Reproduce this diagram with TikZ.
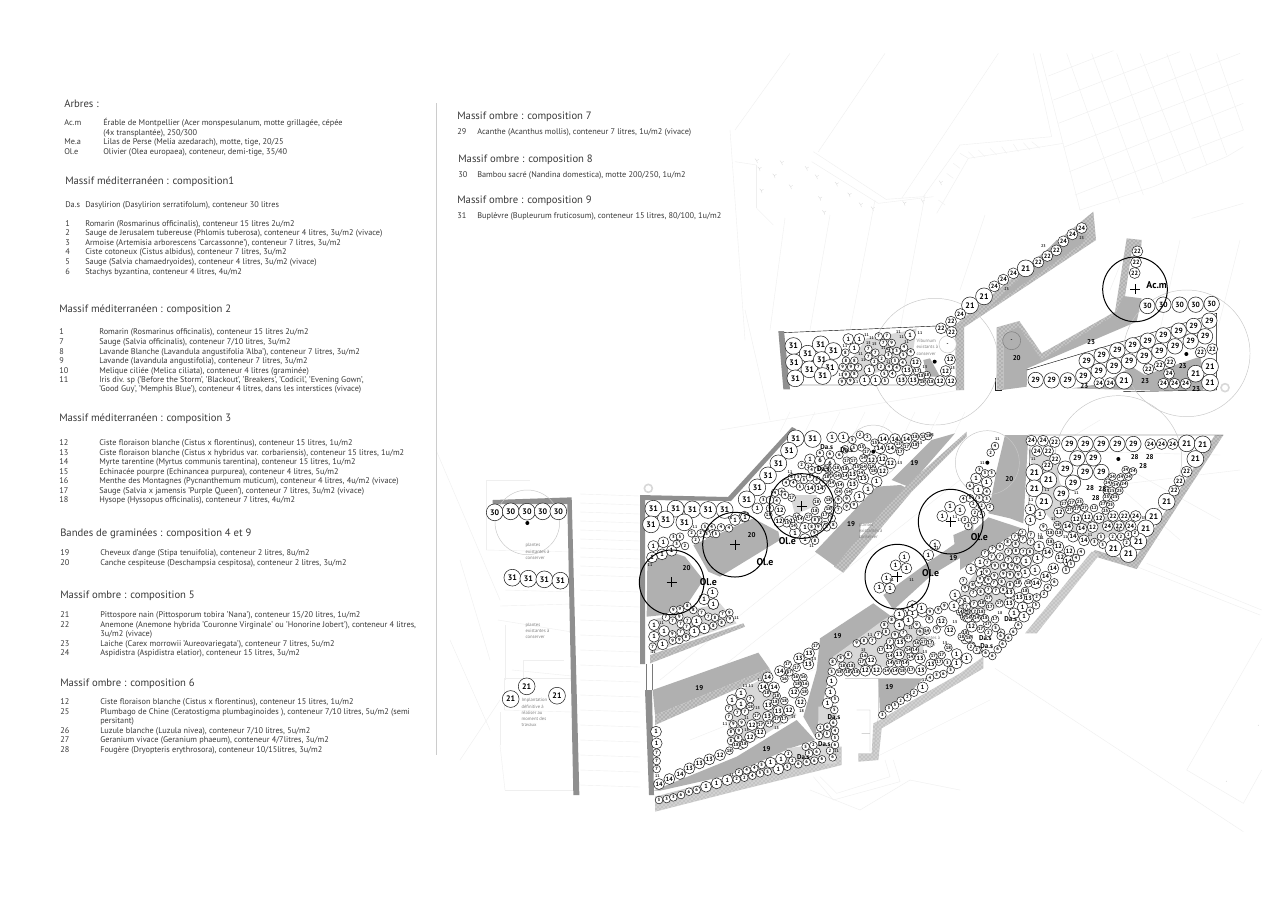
\documentclass[tikz,border=0pt]{standalone}
\usepackage{fontspec}
\setmainfont{PT Sans}
\usetikzlibrary{patterns}
\definecolor{ink}{HTML}{222222}
\definecolor{txt}{HTML}{3a3a3a}
\definecolor{band}{HTML}{b0b0b0}
\definecolor{stip}{HTML}{d8d8d8}
\definecolor{wallc}{HTML}{8f8f8f}
\definecolor{faint}{HTML}{efefef}
\definecolor{thin}{HTML}{c8c8c8}
\tikzset{
 zm/.style 2 args={shift={(#1,#2)},x=0.25pt,y=-0.25pt},
 bp/.style={circle,draw=ink,fill=white,line width=0.4pt,inner sep=0pt,text=black},
 pA/.style={bp,minimum size=12.6pt,font=\fontsize{6}{6}\selectfont\bfseries},
 pB/.style={bp,minimum size=11.6pt,font=\fontsize{5.6}{6}\selectfont\bfseries},
 pC/.style={bp,minimum size=8.2pt,font=\fontsize{4.6}{5}\selectfont\bfseries},
 pD/.style={bp,minimum size=5.8pt,font=\fontsize{3.4}{4}\selectfont\bfseries},
 ti/.style={inner sep=0pt,font=\fontsize{3}{3}\selectfont\bfseries,text=ink},
 la/.style={inner sep=0pt,font=\fontsize{5.2}{6}\selectfont\bfseries,text=black},
 tree/.style={circle,draw=black,line width=0.75pt,minimum size=48.5pt,inner sep=0pt},
 oldtree/.style={circle,draw=thin,line width=0.35pt,inner sep=0pt},
 trl/.style={inner sep=0pt,font=\fontsize{7.4}{8}\selectfont\bfseries,text=black},
 note/.style={inner sep=0pt,align=left,font=\fontsize{3.5}{4.6}\selectfont,text=gray},
 dotn/.style={circle,fill=black,inner sep=0pt,minimum size=3pt},
 ln/.style={faint,line width=0.3pt},
 hatch/.style={preaction={fill=gray!60},pattern=crosshatch dots,pattern color=white},
 hatchl/.style={preaction={fill=gray!46},pattern=crosshatch dots,pattern color=white},
 hd/.style={anchor=base west,yshift=-3pt,inner sep=0pt,text=txt,font=\fontsize{8}{9}\selectfont},
 tb/.style={anchor=base west,yshift=-2pt,inner sep=0pt,text=txt,font=\fontsize{6.2}{7}\selectfont},
}
\newcommand\plants[2]{\foreach \x/\y/\lb in {#2}{\node[#1] at (\x,\y) {\lb};}}
\newcommand\row[4]{\node[tb] at (#1,#4) {#2};}
\begin{document}
\begin{tikzpicture}[x=0.75pt,y=-0.75pt]
\useasboundingbox (0,0) rectangle (1280,915);
\fill[white] (0,0) rectangle (1280,915);

% ---------- faint base plan
\begin{scope}[zm={730}{40}]
\foreach \a/\b/\c/\d in {930/40/1050/510,1010/40/1170/490,1085/40/1240/465,1160/40/1300/430,1230/40/1370/400,1310/40/1430/375,1380/40/1490/345,1460/40/1540/270,
 955/108/1150/32,970/180/1350/35,985/250/1530/40,1000/322/1540/118,1018/395/1540/190,1035/465/1540/270,
 15/270/180/40,265/335/465/40,515/475/805/40,910/40/965/290,690/315/965/290,690/315/580/470,468/478/580/470,250/335/468/478,
 715/355/1000/310,620/520/715/355,445/490/245/365,80/375/80/505,80/505/130/555,15/365/80/375,445/490/610/470,
 1050/510/1270/440,1270/440/1490/350,1490/350/1540/320,1385/535/1540/490}
 {\draw[ln] (\a,\b) -- (\c,\d);}
\foreach \a/\b/\c/\d in {715/335/735/355,745/330/765/350,780/325/800/345,815/320/830/340,850/312/865/335,880/308/900/330,905/305/930/325,
 650/400/670/415,670/370/690/385,690/340/715/355,625/480/645/495}
 {\draw[ln] (\a,\b) -- (\c,\d);}
\foreach \x/\y in {80/362,155/368,230/385,260/410,320/432,358/464,392/494,428/506,270/475,282/517,133/407,182/440,94/452,88/386,523/490,578/484,632/428}
 {\draw[gray!30,line width=0.25pt] (\x-5,\y-6) -- (\x,\y) -- (\x+6,\y-4) (\x,\y) -- (\x+2,\y+7);}
\end{scope}
\begin{scope}[zm={960}{560}]
\foreach \a/\b/\c/\d in {105/325/850/815,530/20/900/165,560/10/905/150,680/630/905/235,680/630/850/730,850/730/905/630}
 {\draw[ln] (\a,\b) -- (\c,\d);}
\fill[faint!90!black] (895,496) circle (1.5) (799,664) circle (1.5);
\end{scope}
% plaza lines
\foreach \yy in {494,503,512,521,530,539,548,557,566,575,590,605,620,635,650,665,680,695,710,725,740,755,770,785}
 {\draw[ln] (580,\yy) -- (640,\yy+2);}
\foreach \xx in {790,815,840,865,890,915,940,965}
 {\draw[ln] (\xx,412) -- (\xx-10,432);}
\foreach \a/\b/\c/\d in {785/218/770/330,830/215/810/330,875/200/850/330,925/195/900/330,985/215/960/290,1130/240/1110/290,1180/240/1160/330,1240/240/1215/340,
 720/430/960/390,660/680/920/470,680/700/960/480,690/740/790/700,790/700/820/690,
 760/690/840/660,870/760/990/700,810/790/860/810,860/810/910/780,910/780/960/790,
 1000/480/1100/420,990/500/1240/470,1030/450/1220/455,1100/470/1180/540,1130/470/1220/520,1050/490/1160/540,
 486/480/530/480,486/480/486/550,486/550/576/552,505/590/572/592,500/606/572/604,498/620/572/632,505/625/505/680,512/670/572/676,523/660/564/660,523/660/523/680,
 504/678/572/678,504/678/504/710,504/710/572/712,500/712/500/745,500/745/505/790,505/790/574/790,
 436/450/500/600,460/560/490/660,450/640/490/730,460/760/500/700,730/130/745/340,745/310/770/420}
 {\draw[ln] (\a,\b) -- (\c,\d);}

% ---------- hatched strips
\begin{scope}[zm={770}{210}]
\fill[hatch] (555,345) -- (970,5) -- (978,90) -- (582,352) -- (582,540) -- (558,540) -- cycle;
\fill[hatch] (680,352) -- (748,333) -- (815,430) -- (1035,305) -- (1070,85) -- (1115,90) -- (1113,115) -- (1085,125) -- (1065,258) -- (1060,310) -- (815,450) -- (745,355) -- (700,375) -- (700,535) -- (680,540) -- cycle;
\fill[band] (660,290) -- (760,195) -- (860,90) -- (955,70) -- (935,100) -- (690,270) -- cycle;
\fill[band] (700,375) -- (745,350) -- (815,450) -- (1035,315) -- (1060,258) -- (1115,265) -- (1100,335) -- (772,475) -- (770,530) -- (680,542) -- (700,535) -- cycle;
\fill[band] (905,535) -- (1000,520) -- (1085,470) -- (1125,495) -- (1200,470) -- (1290,440) -- (1300,480) -- (1300,540) -- (1160,542) -- cycle;
\fill[stip] (290,385) -- (400,365) -- (440,355) -- (420,480) -- (340,480) -- (215,525) -- (215,490) -- cycle;
\fill[band] (460,450) -- (480,445) -- (510,500) -- (470,500) -- cycle;
\draw[thin,line width=0.3pt] (40,368) -- (500,348) (42,525) -- (558,525);
\draw[thin,line width=0.3pt] (770,480) -- (1340,310) -- (1340,540) -- (1060,545);
\fill[wallc] (25,363) -- (42,363) -- (60,538) -- (40,538) -- cycle;
\draw[ink,line width=0.4pt] (676,505) -- (676,540) -- (695,540);
\end{scope}

\begin{scope}[zm={630}{420}]
\fill[band] (52,430) -- (120,395) -- (165,410) -- (220,480) -- (170,555) -- (100,585) -- (50,590) -- cycle;
\fill[band] (190,375) -- (370,295) -- (445,335) -- (450,360) -- (270,470) -- (235,455) -- cycle;
\fill[band] (555,395) -- (740,200) -- (812,195) -- (832,205) -- (640,442) -- (620,442) -- cycle;
\fill[white] (692,312) -- (760,305) -- (752,358) -- (690,356) -- cycle;
\fill[hatch] (612,440) -- (640,458) -- (845,215) -- (1010,50) -- (1010,35) -- (820,205) -- cycle;
\fill[band] (785,180) -- (905,60) -- (975,40) -- (870,160) -- (830,198) -- cycle;
\fill[stip] (480,225) -- (560,225) -- (560,255) -- (495,285) -- cycle;
\fill[band] (760,525) -- (890,430) -- (1020,340) -- (1020,395) -- (905,465) -- (790,570) -- cycle;
\fill[band] (970,345) -- (1005,330) -- (1030,310) -- (1030,390) -- (980,420) -- cycle;
\end{scope}

\begin{scope}[zm={960}{420}]
\fill[band] (85,280) -- (110,150) -- (135,45) -- (205,45) -- (190,310) -- (150,295) -- cycle;
\fill[band] (0,370) -- (85,292) -- (185,325) -- (30,430) -- (0,450) -- cycle;
\fill[stip] (205,85) -- (240,260) -- (300,330) -- (400,370) -- (470,340) -- (530,320) -- (450,290) -- (340,280) -- (300,200) -- (290,120) -- cycle;
\fill[stip] (170,360) -- (60,440) -- (0,520) -- (0,590) -- (130,560) -- (190,470) -- (250,380) -- cycle;
\fill[hatch] (390,405) -- (530,447) -- (790,45) -- (765,45) -- (518,425) -- (405,390) -- cycle;
\fill[hatchl] (195,640) -- (395,395) -- (420,402) -- (230,640) -- cycle;
\draw[thin,line width=0.3pt] (205,45) -- (790,45) (210,80) -- (205,340);
\end{scope}

\begin{scope}[zm={640}{600}]
\fill[band] (540,115) -- (700,10) -- (755,50) -- (580,170) -- (555,280) -- (525,410) -- (490,350) -- (510,280) -- (530,210) -- cycle;
\fill[hatch] (30,165) -- (310,70) -- (315,80) -- (30,190) -- cycle;
\fill[stip] (35,60) -- (150,30) -- (240,10) -- (290,70) -- (30,160) -- cycle;
\fill[band] (38,270) -- (355,158) -- (388,205) -- (45,345) -- cycle;
\fill[hatch] (45,345) -- (388,205) -- (395,220) -- (45,375) -- cycle;
\fill[stip] (265,290) -- (370,235) -- (470,345) -- (330,430) -- (265,440) -- cycle;
\fill[band] (40,572) -- (290,470) -- (470,360) -- (525,420) -- (450,445) -- (270,525) -- (60,572) -- cycle;
\fill[hatchl] (45,590) -- (270,530) -- (530,440) -- (605,440) -- (605,495) -- (300,570) -- (45,635) -- cycle;
\fill[stip] (535,320) -- (590,315) -- (590,420) -- (535,420) -- cycle;
\fill[stip] (440,445) -- (560,430) -- (590,490) -- (460,495) -- cycle;
\fill[band] (715,235) -- (850,235) -- (780,310) -- (720,340) -- cycle;
\fill[hatchl] (720,360) -- (820,300) -- (960,220) -- (1030,170) -- (1030,205) -- (725,385) -- (715,480) -- (655,485) -- (655,460) -- (695,460) -- (700,370) -- cycle;
\fill[stip] (580,170) -- (730,60) -- (780,30) -- (850,80) -- (850,170) -- (740,200) -- (600,205) -- cycle;
\draw[faint!80!black,line width=0.3pt] (615,235) -- (715,235) -- (715,350) -- (700,460) (650,330) -- (690,330) -- (690,455) (665,400) -- (690,400);
\draw[faint,line width=0.3pt] (520,530) -- (580,600) -- (780,545) -- (760,480) (540,530) -- (590,580) -- (750,530) -- (735,480);
\end{scope}

% ---------- walls
\fill[wallc] (640,495) -- (728,497) -- (792,427) -- (796,429) -- (731,501) -- (645,500) -- (645,664) -- (640,664) -- cycle;
\fill[wallc] (645,690) -- (652,690) -- (654,795) -- (649,795) -- cycle;
\draw[ink!60,line width=0.3pt] (646,664) -- (646,690) (652,664) -- (652,690);
\begin{scope}[zm={480}{480}]
\fill[wallc] (38,60) -- (275,52) -- (298,945) -- (280,945) -- (262,72) -- (38,72) -- cycle;
\end{scope}

% ---------- existing trees (thin)
\begin{scope}[zm={480}{480}]
\node[oldtree,minimum size=48.5pt] at (142,127) {};
\node[dotn] at (142,129) {};
\end{scope}
\begin{scope}[zm={770}{210}]
\node[oldtree,minimum size=95pt] at (495,455) {};
\node[oldtree,minimum size=95pt] at (1250,430) {};
\node[circle,draw=stip,fill=white,line width=1.2pt,minimum size=6pt,inner sep=0] at (1365,533) {};
\node[circle,draw=gray,fill=band,line width=0.4pt,minimum size=13.5pt,inner sep=0,font=\fontsize{4}{4}\selectfont\bfseries] at (725,392) {-};
\node[circle,draw=thin,fill=white,line width=0.4pt,minimum size=13pt,inner sep=0,font=\fontsize{4}{4}\selectfont\bfseries] at (533,403) {-};
\node[dotn] at (494,455) {};
\node[dotn] at (1249,432) {};
\node[note] at (472,412) {Viburnum\\existants à\\conserver};
\end{scope}
\begin{scope}[zm={630}{420}]
\node[oldtree,minimum size=40pt] at (730,95) {};
\node[dotn] at (730,95) {};
\node[note] at (722,333) {plantes\\existantes à\\conserver};
\node[circle,draw=stip,fill=white,line width=1.2pt,minimum size=6pt,inner sep=0] at (55,205) {};
\end{scope}
\begin{scope}[zm={960}{420}]
\node[oldtree,minimum size=48pt] at (82,128) {};
\node[dotn] at (82,128) {};
\node[oldtree,minimum size=95pt] at (475,117) {};
\node[dotn] at (475,117) {};
\end{scope}

% ---------- plants: north block
\begin{scope}[zm={770}{210}]
\plants{pA}{70/408/31,113/431/31,152/403/31,190/423/31,72/457/31,118/478/31,155/450/31,180/474/31,76/505/31,158/498/31,600/286/21,642/259/21,767/175/21,1062/512/21,1277/491/21,1320/470/21,1320/518/21}
\plants{pB}{797/510/29,845/511/29,893/511/29,940/497/29,950/452/29,995/436/29,1042/421/29,1088/406/29,1133/392/29,1180/376/29,1226/362/29,1271/348/29,1318/332/29,1305/379/29,1262/394/29,1215/409/29,1168/423/29,1123/438/29,1077/454/29,1032/468/29,986/483/29,1132/288/30,1180/284/30,1229/284/30,1277/284/30,1325/282/30}
\plants{pC}{1102/124/22,1098/157/22,1094/189/22,543/335/22,513/355/22,545/366/22,805/157/22,832/138/22,859/121/22,1292/427/22,1327/417/22,1135/477/22,1168/467/22,1200/457/22,571/312/24,673/229/24,700/209/24,730/190/24,880/94/24,907/73/24,935/54/24,988/519/24,1020/519/24,1197/491/24,1180/521/24,1214/521/24,1247/521/24,540/449/12,437/458/12,527/483/12,510/513/12,543/513/12,395/510/13,430/510/13,412/481/13,235/387/1,268/387/1,420/375/1,253/415/1,298/480/1,284/511/1,317/511/1}
\plants{pD}{326/379/7,351/378/7,340/399/7,365/399/9,295/417/7,295/440/7,316/428/7,358/423/3,402/412/4,380/423/3,422/427/4,355/436/3,400/435/5,335/446/2,313/455/2,375/452/3,398/458/4,333/470/2,357/472/4,380/474/4,343/491/5,367/492/4,345/513/5,228/452/8,253/452/8,218/471/9,243/471/9,265/472/7,228/494/9,253/493/8,216/515/9,241/513/9,226/428/8,441/483/17,457/516/18,483/516/18,470/495/18,453/498/18}
\plants{ti}{290/375/11,305/383/11,385/365/11,450/370/11,410/395/11,295/400/15,313/403/15,225/408/11,272/432/11,280/450/11,258/515/11,355/455/11,213/494/11,465/470/15,548/475/15,395/380/11,340/415/11,355/418/11}
\plants{la}{963/396/23,943/529/23,1125/513/23,1238/468/23,1278/536/23,740/445/20}
\plants{ti}{710/236/23,935/85/23,820/109/23}
\end{scope}

% ---------- plants: centre-left
\begin{scope}[zm={630}{420}]
\plants{pA}{497/55/31,548/57/31,477/92/31,445/130/31,414/166/31,382/202/31,350/238/31,70/266/31,137/266/31,187/268/31,234/270/31,284/270/31,107/298/31,63/313/31,163/307/31}
\plants{pC}{606/52/1,640/52/1,760/57/14,795/57/14,830/57/14,782/85/14,750/85/14,757/118/12,782/130/12,725/120/12,758/153/12,700/175/13,668/162/13,668/193/13,714/207/1,688/230/1,740/185/1,540/118/1,570/122/6,600/130/6,570/205/14,540/205/14,450/271/12,447/305/12,478/303/12,525/323/1,495/339/1,525/357/1,382/265/1,315/300/1,343/290/1,70/378/1,100/367/1,96/403/1,66/412/1,125/392/1,248/518/1,222/538/1,250/552/1,960/260/1,990/270/1,937/288/1,915/375/1,895/405/1,823/411/1,797/436/1,829/445/1,770/475/1,748/503/1,780/505/1,815/583/1,848/580/1,878/575/1,975/525/1}
\plants{pD}{667/60/5,690/44/2,712/52/2,734/68/15,645/88/6,672/84/5,695/82/15,710/95/17,600/103/6,628/105/6,650/122/17,670/122/17,700/115/14,725/140/18,730/152/18,620/143/18,645/148/18,598/162/18,622/167/14,645/168/14,605/190/14,630/195/14,655/215/14,625/215/14,650/237/9,672/255/9,625/240/9,650/260/9,625/270/7,602/270/7,585/285/17,605/295/8,565/300/17,585/315/8,610/315/8,565/322/9,590/322/8,545/320/8,553/340/9,555/362/8,485/172/8,505/172/5,522/180/5,540/172/5,560/180/5,580/187/5,468/188/4,490/190/4,510/200/5,455/215/4,435/218/4,465/225/4,440/242/4,485/233/17,560/245/18,595/240/18,595/268/18,555/272/18,535/290/17,500/290/14,470/310/15,490/318/14,510/298/14,555/300/8,400/240/3,420/240/3,420/265/4,415/285/13,225/320/3,245/322/4,273/322/4,297/325/4,247/340/4,230/343/3,212/340/2,185/340/2,197/360/2,258/342/5,130/352/3,150/350/5,140/372/3,165/378/2,570/100/6,535/140/2,515/135/2,545/150/4,565/150/3,590/172/18,592/145/18,805/72/15,830/80/17,855/50/18,880/50/18,855/75/18,895/48/18,810/95/17,700/140/14,680/142/15,692/158/14}
\plants{ti}{480/155/11,545/378/11,195/320/11,60/435/11,905/45/15,810/130/15,870/68/15,300/295/11,620/255/11,975/290/11,990/300/11,845/480/11,785/480/11,920/385/11}
\node[bp,minimum size=7pt,font=\fontsize{4.6}{5}\selectfont\bfseries] at (345,291) {1};
\plants{la}{365/344/20,170/445/20,853/130/19,663/312/19,970/415/19}
\plants{la}{590/80/Da.s,650/90/Da.s,580/147/Da.s}
\end{scope}

% ---------- plants: centre-right
\begin{scope}[zm={960}{420}]
\plants{pA}{680/70/21,728/73/21,706/117/21,620/245/21,581/290/21,557/325/21,535/364/21,460/385/21,505/402/21,223/157/21,265/180/21,223/205/21,252/245/21}
\plants{pB}{328/72/29,376/72/29,424/72/29,472/72/29,520/72/29,352/115/29,400/115/29,316/146/29,375/156/29,424/156/29,339/188/29,304/221/29}
\plants{pC}{214/62/24,249/62/24,284/66/22,231/93/24,264/93/22,285/117/22,262/137/22,571/72/24,605/72/24,638/72/24,680/155/22,658/183/22,642/212/22,211/268/1,240/283/1,211/300/1,297/278/12,349/297/12,382/291/12,417/294/12,323/320/14,365/326/14,398/321/12,339/350/14,372/361/14,443/318/24,477/318/22,512/318/24,459/288/22,493/288/22,527/288/24,48/175/1,80/187/1,55/210/1,237/379/1,233/415/1,198/423/1,225/450/1,195/458/1,295/380/12,328/393/12,263/398/14,302/413/12,325/423/14,280/445/14,257/470/14,228/490/14,205/535/13,178/533/13,148/518/13,148/550/13,188/562/1,162/580/1,192/590/1,60/427/1,65/460/1,33/447/1,15/542/1}
\plants{pD}{105/78/4,92/98/2,58/150/3,75/160/3,95/160/3,80/215/4,30/197/6,58/235/5,80/237/3,65/257/2,90/262/2,40/252/2,45/278/2,63/283/2,10/237/4,30/235/5,15/300/2,43/300/2,25/318/3,250/322/9,270/338/18,292/315/18,297/338/18,423/350/3,403/366/3,428/374/3,458/350/2,483/350/2,505/344/2,525/340/2,500/368/2,457/170/24,482/172/24,505/170/24,497/150/24,519/154/24,443/188/24,467/195/24,492/192/24,440/212/25,456/212/25,478/212/25,440/232/25,465/232/25,358/245/23,335/248/27,312/251/27,328/270/27,350/268/27,373/263/27,429/253/27,451/255/25,437/272/25,402/264/12,187/338/7,213/345/7,165/350/7,189/358/7,143/367/8,167/372/8,212/365/7,120/380/9,145/395/7,168/393/8,97/388/7,75/400/7,270/365/18,348/414/4,363/396/4,333/432/3,318/450/3,283/487/6,263/503/4,252/522/2,230/532/2,195/513/18,173/490/18,205/490/18,228/556/5,210/572/4,95/410/7,120/410/7,145/420/7,170/420/7,132/438/9,105/437/9,82/428/7,80/455/9,155/438/9,130/462/9,103/468/9,150/465/9,125/485/8,102/490/7,85/510/7,62/515/8,40/520/7,38/495/8,15/505/9,10/483/7,108/513/7,85/535/17,65/550/18,42/552/7,118/550/17,45/575/7,90/560/17,25/580/18,0/575/14,12/590/15,63/575/18,105/598/17,82/612/17,123/638/5,62/627/17,36/620/12,175/616/6,160/635/6,145/653/6,122/648/6,128/672/6,113/688/6,97/708/6,77/700/6,55/690/2,35/677/2,15/660/18,15/640/18,85/638/2,107/624/5,20/595/14,45/590/15,150/495/8,130/510/8,75/485/7,55/490/9,60/478/9,85/480/9,75/595/18,0/545/7,20/560/7,190/395/7,210/395/8,172/445/9,175/465/9}
\plants{ti}{112/58/11,67/128/11,213/240/11,261/211/11,349/220/11,280/298/11,220/117/11,240/345/11,316/350/11,390/344/11,552/293/15,475/330/15,245/355/11,178/345/11,240/355/15,120/578/18,33/650/15}
\plants{la}{148/177/20,524/112/28,569/110/28,549/138/28,390/205/28,427/207/28,407/235/28}
\end{scope}

% ---------- plants: south block
\begin{scope}[zm={640}{600}]
\plants{pC}{42/75/1,72/93/1,42/110/1,68/133/1,170/63/1,163/95/1,193/85/1,220/12/1,48/395/1,50/430/1,57/552/14,88/537/14,120/522/14,148/505/13,178/490/13,208/478/13,240/465/12,198/560/1,230/550/1,262/540/1,415/507/1,392/488/1,423/477/1,563/310/1,571/277/1,575/243/1,676/212/12,710/210/12,843/210/13,873/193/13,950/190/1,980/175/1,848/262/1,950/162/1,693/182/12,778/43/1,805/62/1,778/75/1,780/128/13,747/143/13,777/163/13,840/175/13,845/25/1,817/18/1,905/65/12,930/92/12,942/18/1,995/80/12,383/232/14,370/262/14,402/262/14,420/213/14,477/175/13,507/160/13,505/193/13,462/278/12,482/307/12,385/315/13,383/350/13,415/333/13,447/331/12,336/375/12,361/398/12,330/411/12,302/432/12,276/300/1,303/312/1,303/280/1}
\plants{pD}{78/52/7,98/62/7,118/50/9,122/72/7,142/62/7,140/80/7,97/103/9,122/97/7,98/122/9,118/120/9,138/112/8,38/140/7,205/50/7,225/53/8,248/43/7,268/38/9,270/58/9,245/68/8,220/77/8,160/30/8,185/38/7,120/28/9,142/18/8,100/30/9,50/458/7,50/483/7,50/507/7,268/452/18,57/600/3,80/597/3,100/592/3,123/585/6,147/575/6,170/570/6,290/538/2,313/533/2,337/527/4,360/520/5,383/515/5,297/517/2,320/511/4,343/505/4,365/495/5,442/500/5,457/482/2,445/462/2,475/493/6,500/486/6,523/482/6,546/478/6,530/455/6,507/460/5,497/440/5,520/436/2,578/472/6,570/452/2,585/435/6,537/407/5,561/402/5,585/413/5,541/383/2,562/380/6,585/392/4,580/368/6,583/330/5,585/298/3,575/215/3,598/217/18,623/217/18,648/217/18,740/213/14,765/213/14,787/213/18,813/210/17,897/185/17,922/188/3,932/210/5,910/222/6,890/225/5,870/233/4,822/278/2,802/292/2,782/302/2,765/316/5,747/325/3,727/345/3,925/143/18,905/165/17,880/168/17,578/185/8,602/175/8,625/165/8,608/197/18,633/197/18,665/185/17,672/167/16,650/130/9,672/122/8,697/122/7,715/105/7,738/95/8,733/75/8,755/60/8,830/75/9,765/105/9,790/100/7,750/125/7,723/150/17,750/167/14,775/190/17,750/190/14,805/115/17,805/150/14,825/150/14,812/170/14,795/190/14,870/35/9,895/30/9,868/58/8,913/18/9,965/110/18,985/115/18,993/140/2,1010/150/2,985/55/14,1010/55/14,448/217/17,443/193/17,470/203/17,433/236/16,527/138/17,467/232/16,490/232/16,472/252/18,495/252/16,493/275/18,380/280/18,331/297/7,331/320/18,267/325/7,292/338/7,267/351/7,315/335/7,280/373/9,305/368/9,273/397/8,297/392/9,273/423/8,295/415/8,288/435/18,312/433/18,350/348/17,362/375/17,388/370/17,432/358/17,410/358/17,410/288/18,433/303/18,405/305/18,850/125/17,830/130/16,870/130/17,890/88/9,860/92/14,840/95/9}
\plants{ti}{65/68/11,290/55/11,40/157/11,52/527/11,440/220/11,360/240/11,315/258/11,333/258/11,255/373/11,460/350/15,410/385/15,353/325/15,320/353/11,320/390/15,485/333/18,522/176/15,590/453/11,275/525/11,670/150/15,812/85/11,690/105/11,980/30/15,963/42/11,945/65/15,855/155/15,915/130/15,853/240/11}
\plants{la}{178/263/19,380/448/19,593/109/19,748/262/19}
\plants{la}{582/350/Da.s,553/432/Da.s,490/471/Da.s}
\node[note] at (865,115) {Myrtes\\existantes à\\conserver};
\end{scope}
\begin{scope}[zm={960}{560}]
\plants{la}{152/178/Da.s,76/233/Da.s,80/257/Da.s}
\end{scope}

% ---------- west strip
\begin{scope}[zm={480}{480}]
\plants{pA}{44/97/30,92/94/30,141/95/30,188/94/30,235/94/30,97/293/31,145/296/31,193/298/31,241/302/31,140/619/21,92/657/21,231/647/21}
\node[note,anchor=north west] at (136,190) {plantes\\existantes à\\conserver};
\node[note,anchor=north west] at (136,428) {plantes\\existantes à\\conserver};
\node[note,anchor=north west] at (124,655) {Implantation\\définitive à\\réaliser au\\moment des\\travaux};
\end{scope}

% ---------- new trees
\begin{scope}[zm={770}{210}]
\node[tree] (acm) at (1095,238) {};
\draw[black,line width=0.35pt] (1080,238) -- (1110,238) (1095,223) -- (1095,253);
\node[trl] at (1160,224) {Ac.m};
\end{scope}
\begin{scope}[zm={630}{420}]
\foreach \x/\y in {125/487,315/374,515/258,962/305,802/470}{
 \node[tree] at (\x,\y) {};
 \draw[black,line width=0.35pt] (\x-15,\y) -- (\x+15,\y) (\x,\y-15) -- (\x,\y+15);
}
\plants{trl}{235/486/Ol.e,405/425/Ol.e,472/364/Ol.e,902/460/Ol.e}
\end{scope}
\begin{scope}[zm={960}{420}]
\node[trl] at (58,350) {Ol.e};
\end{scope}

% ---------- legend
\draw[gray!40,line width=0.3pt] (436,103) -- (436,755);
\node[hd] at (64,103) {Arbres :};
\row{64}{Ac.m}{}{123}\row{103}{Érable de Montpellier (Acer monspesulanum, motte grillagée, cépée}{}{123}
\row{103}{(4x transplantée), 250/300}{}{132.5}
\row{64}{Me.a}{}{142}\row{103}{Lilas de Perse (Melia azedarach), motte, tige, 20/25}{}{142}
\row{64}{Ol.e}{}{151.5}\row{103}{Olivier (Olea europaea), conteneur, demi-tige, 35/40}{}{151.5}

\node[hd] at (65,180) {Massif méditerranéen : composition1};
\row{65}{Da.s}{}{205}\row{85}{Dasylirion (Dasylirion serratifolum), conteneur 30 litres}{}{205}
\row{65}{1}{}{224}\row{85}{Romarin (Rosmarinus officinalis), conteneur 15 litres 2u/m2}{}{224}
\row{65}{2}{}{233}\row{85}{Sauge de Jerusalem tubereuse  (Phlomis tuberosa), conteneur 4 litres, 3u/m2 (vivace)}{}{233}
\row{65}{3}{}{243}\row{85}{Armoise (Artemisia arborescens 'Carcassonne'), conteneur 7 litres, 3u/m2}{}{243}
\row{65}{4}{}{252}\row{85}{Ciste cotoneux (Cistus albidus), conteneur 7 litres, 3u/m2}{}{252}
\row{65}{5}{}{262}\row{85}{Sauge (Salvia chamaedryoides), conteneur 4 litres, 3u/m2 (vivace)}{}{262}
\row{65}{6}{}{271.5}\row{85}{Stachys byzantina, conteneur 4 litres, 4u/m2}{}{271.5}

\node[hd] at (59,308.5) {Massif méditerranéen : composition 2};
\row{59}{1}{}{332}\row{99}{Romarin (Rosmarinus officinalis), conteneur 15  litres 2u/m2}{}{332}
\row{59}{7}{}{342}\row{99}{Sauge  (Salvia officinalis), conteneur 7/10 litres, 3u/m2}{}{342}
\row{59}{8}{}{351.5}\row{99}{Lavande Blanche (Lavandula angustifolia 'Alba'), conteneur 7 litres, 3u/m2}{}{351.5}
\row{59}{9}{}{361}\row{99}{Lavande (lavandula angustifolia), conteneur 7 litres, 3u/m2}{}{361}
\row{59}{10}{}{370.5}\row{99}{Melique ciliée (Melica ciliata),  conteneur 4 litres (graminée)}{}{370.5}
\row{59}{11}{}{380}\row{99}{Iris div. sp ('Before the Storm', 'Blackout', 'Breakers', 'Codicil', 'Evening Gown',}{}{380}
\row{99}{'Good Guy', 'Memphis Blue'),  conteneur 4 litres, dans les interstices (vivace)}{}{389}

\node[hd] at (59,417.5) {Massif méditerranéen : composition 3};
\row{59}{12}{}{443}\row{99}{Ciste floraison blanche (Cistus x florentinus),  conteneur 15 litres, 1u/m2}{}{443}
\row{59}{13}{}{452.5}\row{99}{Ciste floraison blanche (Cistus x hybridus var. corbariensis),  conteneur 15 litres, 1u/m2}{}{452.5}
\row{59}{14}{}{462}\row{99}{Myrte tarentine (Myrtus communis tarentina),  conteneur 15 litres, 1u/m2}{}{462}
\row{59}{15}{}{471.5}\row{99}{Echinacée pourpre (Echinancea purpurea), conteneur 4 litres, 5u/m2}{}{471.5}
\row{59}{16}{}{481}\row{99}{Menthe des Montagnes (Pycnanthemum muticum), conteneur 4 litres, 4u/m2  (vivace)}{}{481}
\row{59}{17}{}{490.5}\row{99}{Sauge (Salvia x jamensis 'Purple Queen'), conteneur 7 litres, 3u/m2 (vivace)}{}{490.5}
\row{59}{18}{}{500}\row{99}{Hysope (Hyssopus officinalis), conteneur 7 litres, 4u/m2}{}{500}

\node[hd] at (60,532.5) {Bandes de graminées : composition 4 et 9};
\row{60}{19}{}{553}\row{100}{Cheveux d'ange (Stipa tenuifolia), conteneur 2 litres, 8u/m2}{}{553}
\row{60}{20}{}{562.5}\row{100}{Canche cespiteuse (Deschampsia cespitosa), conteneur 2 litres, 3u/m2}{}{562.5}

\node[hd] at (60,594) {Massif ombre : composition 5};
\row{60}{21}{}{615}\row{100}{Pittospore nain (Pittosporum tobira 'Nana'), conteneur 15/20 litres, 1u/m2}{}{615}
\row{60}{22}{}{624.5}\row{100}{Anemone (Anemone hybrida 'Couronne Virginale' ou 'Honorine Jobert'), conteneur 4 litres,}{}{624.5}
\row{100}{3u/m2 (vivace)}{}{634}
\row{60}{23}{}{643.5}\row{100}{Laiche (Carex morrowii 'Aureovariegata'), conteneur 7 litres, 5u/m2}{}{643.5}
\row{60}{24}{}{653}\row{100}{Aspidistra (Aspidistra elatior), conteneur 15 litres, 3u/m2}{}{653}

\node[hd] at (60,682) {Massif ombre : composition 6};
\row{60}{12}{}{702}\row{100}{Ciste floraison blanche (Cistus x florentinus),  conteneur 15 litres, 1u/m2}{}{702}
\row{60}{25}{}{712}\row{100}{Plumbago de Chine (Ceratostigma plumbaginoides ), conteneur 7/10 litres, 5u/m2 (semi}{}{712}
\row{100}{persitant)}{}{721}
\row{60}{26}{}{731}\row{100}{Luzule blanche (Luzula nivea), conteneur 7/10 litres, 5u/m2}{}{731}
\row{60}{27}{}{740}\row{100}{Geranium vivace (Geranium phaeum), conteneur  4/7litres, 3u/m2}{}{740}
\row{60}{28}{}{749.5}\row{100}{Fougère (Dryopteris erythrosora), conteneur  10/15litres, 3u/m2}{}{749.5}

\node[hd] at (457,115) {Massif ombre : composition 7};
\row{457}{29}{}{132}\row{477}{Acanthe (Acanthus mollis), conteneur 7 litres, 1u/m2  (vivace)}{}{132}
\node[hd] at (458,158) {Massif ombre : composition 8};
\row{458}{30}{}{175}\row{477}{Bambou sacré (Nandina domestica), motte 200/250, 1u/m2}{}{175}
\node[hd] at (457,199) {Massif ombre : composition 9};
\row{457}{31}{}{216}\row{477}{Buplèvre (Bupleurum fruticosum), conteneur 15 litres, 80/100, 1u/m2}{}{216}
\end{tikzpicture}
\end{document}
